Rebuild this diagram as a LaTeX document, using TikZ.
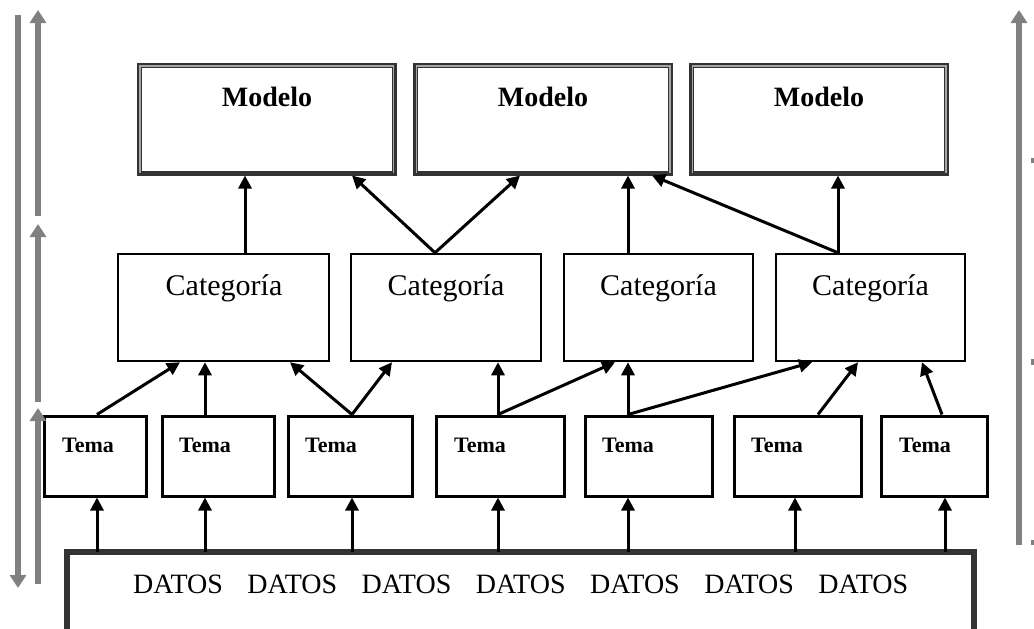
\documentclass[tikz,border=0pt]{standalone}
\usepackage{fontspec}
\setmainfont{Liberation Serif}
\usetikzlibrary{arrows.meta}
\definecolor{lgray}{RGB}{128,128,128}
\definecolor{dgray}{RGB}{51,51,51}
\definecolor{igray}{RGB}{165,165,165}
\begin{document}
\begin{tikzpicture}[x=1pt,y=-1pt,
  modelbox/.style={draw=dgray, line width=5pt, minimum width=255pt, minimum height=108pt, inner sep=0pt},
  catbox/.style={draw=black, line width=2.5pt, minimum height=107pt, inner sep=0pt},
  temabox/.style={draw=black, line width=3pt, minimum height=80pt, inner sep=0pt},
  modeltxt/.style={anchor=base, inner sep=0pt, font=\bfseries\fontsize{28}{28}\selectfont},
  cattxt/.style={anchor=base, inner sep=0pt, font=\fontsize{30}{30}\selectfont},
  tematxt/.style={anchor=base west, inner sep=0pt, font=\bfseries\fontsize{22}{22}\selectfont},
  datostxt/.style={anchor=base west, inner sep=0pt, font=\fontsize{28}{28}\selectfont},
  link/.style={-{Triangle[length=13pt,width=13pt]}, line width=3pt, draw=black},
  grayarrow/.style={-{Triangle[length=13pt,width=16pt]}, line width=6pt, draw=lgray},
  innerline/.style={draw=igray, line width=1.5pt}
]
\useasboundingbox (0,0) rectangle (1034,629);

% Modelo boxes
\node[modelbox] (m1) at (266.5,119) {};
\node[modelbox] (m2) at (543,119) {};
\node[modelbox] (m3) at (819,119) {};
\foreach \m in {m1,m2,m3}{
  \draw[innerline] ([shift={(3.25,-2.5)}]\m.south west) -- ([shift={(3.25,3.25)}]\m.north west)
    -- ([shift={(-3.25,3.25)}]\m.north east) -- ([shift={(-3.25,-2.5)}]\m.south east);
}
\node[modeltxt] (m1t) at (267,106) {Modelo};
\node[modeltxt] (m2t) at (543,106) {Modelo};
\node[modeltxt] (m3t) at (819,106) {Modelo};

% Categoria boxes
\node[catbox, minimum width=211pt] (c1) at (223.5,307.5) {};
\node[catbox, minimum width=190pt] (c2) at (446,307.5) {};
\node[catbox, minimum width=189pt] (c3) at (658.5,307.5) {};
\node[catbox, minimum width=189pt] (c4) at (870.5,307.5) {};
\node[cattxt] (c1t) at (224,295) {Categoría};
\node[cattxt] (c2t) at (446,295) {Categoría};
\node[cattxt] (c3t) at (658.5,295) {Categoría};
\node[cattxt] (c4t) at (870.5,295) {Categoría};

% Tema boxes
\node[temabox, minimum width=102pt] (t1) at (95,456) {};
\node[temabox, minimum width=112pt] (t2) at (218,456) {};
\node[temabox, minimum width=124pt] (t3) at (350,456) {};
\node[temabox, minimum width=128pt] (t4) at (500,456) {};
\node[temabox, minimum width=127pt] (t5) at (648.5,456) {};
\node[temabox, minimum width=127pt] (t6) at (797.5,456) {};
\node[temabox, minimum width=106pt] (t7) at (934,456) {};
\node[tematxt] (t1t) at (62,452) {Tema};
\node[tematxt] (t2t) at (179,452) {Tema};
\node[tematxt] (t3t) at (305,452) {Tema};
\node[tematxt] (t4t) at (454,452) {Tema};
\node[tematxt] (t5t) at (602,452) {Tema};
\node[tematxt] (t6t) at (751,452) {Tema};
\node[tematxt] (t7t) at (899,452) {Tema};

% DATOS box (open at the bottom)
\node[draw=none, minimum width=907pt, minimum height=77pt, inner sep=0pt] (d) at (520.5,591) {};
\draw[dgray, line width=6pt] (d.south west) |- (d.north east) -- (d.south east);
\node[datostxt] (dt) at (133,593) {\spaceskip=24.5pt DATOS DATOS DATOS DATOS DATOS DATOS DATOS};

% Categoria -> Modelo
\draw[link] ([xshift=21.5]c1.north) -- ([xshift=-21.5]m1.south);
\draw[link] ([xshift=-11]c2.north) -- ([xshift=85.5]m1.south);
\draw[link] ([xshift=-11]c2.north) -- ([xshift=-23]m2.south);
\draw[link] ([xshift=-30.5]c3.north) -- ([xshift=85]m2.south);
\draw[link] ([xshift=-32.5]c4.north) -- ([xshift=109]m2.south);
\draw[link] ([xshift=-32.5]c4.north) -- ([xshift=19]m3.south);

% Tema -> Categoria
\draw[link] ([xshift=2]t1.north) -- ([xshift=-43.5]c1.south);
\draw[link] ([xshift=-13]t2.north) -- ([xshift=-18.5]c1.south);
\draw[link] ([xshift=2]t3.north) -- ([xshift=66.5]c1.south);
\draw[link] ([xshift=2]t3.north) -- ([xshift=-54]c2.south);
\draw[link] ([xshift=-2]t4.north) -- ([xshift=52]c2.south);
\draw[link] ([xshift=-2]t4.north) -- ([xshift=-43.5]c3.south);
\draw[link] ([xshift=-20.5]t5.north) -- ([xshift=-30.5]c3.south);
\draw[link] ([xshift=-20.5]t5.north) -- ([xshift=-58.5]c4.south);
\draw[link] ([xshift=20.5]t6.north) -- ([xshift=-12.5]c4.south);
\draw[link] ([xshift=8]t7.north) -- ([xshift=51.5]c4.south);

% DATOS -> Tema
\draw[link] ([xshift=-423.5]d.north) -- ([xshift=2]t1.south);
\draw[link] ([xshift=-315.5]d.north) -- ([xshift=-13]t2.south);
\draw[link] ([xshift=-168.5]d.north) -- ([xshift=2]t3.south);
\draw[link] ([xshift=-22.5]d.north) -- ([xshift=-2]t4.south);
\draw[link] ([xshift=107.5]d.north) -- ([xshift=-20.5]t5.south);
\draw[link] ([xshift=274.5]d.north) -- ([xshift=-2.5]t6.south);
\draw[link] ([xshift=424.5]d.north) -- ([xshift=11]t7.south);

% gray scale arrows
\coordinate (a1s) at (18,15);   \coordinate (a1e) at (18,588);
\coordinate (b1s) at (38,216);  \coordinate (b1e) at (38,10);
\coordinate (b2s) at (38,402);  \coordinate (b2e) at (38,224);
\coordinate (b3s) at (38,584);  \coordinate (b3e) at (38,408);
\coordinate (r1s) at (1019,545); \coordinate (r1e) at (1019,10);
\draw[grayarrow] (a1s) -- (a1e);
\draw[grayarrow] (b1s) -- (b1e);
\draw[grayarrow] (b2s) -- (b2e);
\draw[grayarrow] (b3s) -- (b3e);
\draw[grayarrow] (r1s) -- (r1e);
\fill[lgray] (1031,158) rectangle (1034,163);
\fill[lgray] (1031,359) rectangle (1034,365);
\fill[lgray] (1031,540) rectangle (1034,545);
\end{tikzpicture}
\end{document}
